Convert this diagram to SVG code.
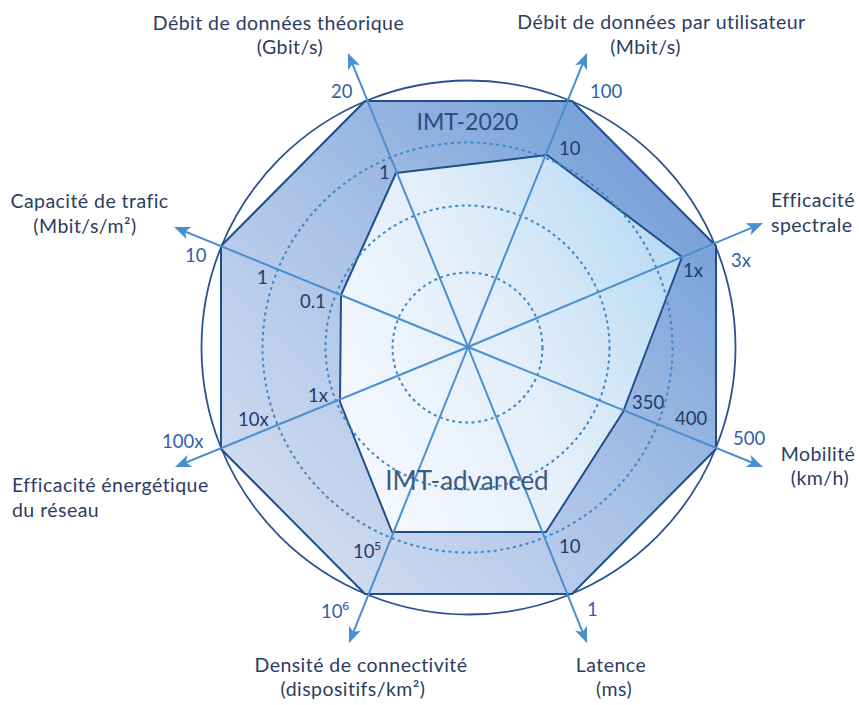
<svg xmlns="http://www.w3.org/2000/svg" width="859" height="705" viewBox="0 0 859 705">
  <style>
    text { font-family: Lato, "Open Sans", "Noto Sans", sans-serif; }
    .title { font-size: 19.5px; letter-spacing: 0.45px; fill: #2b3d61; }
    .outer { font-size: 18.5px; fill: #2f62a6; }
    .inner { font-size: 18.5px; fill: #1f3c6e; }
    .sup { font-family: "Open Sans", "Noto Sans", sans-serif; }
    .ring { fill: none; stroke: #3f86c8; stroke-width: 2; stroke-dasharray: 3 3.5; }
    .axis { stroke: #4a8fd0; stroke-width: 2; fill: none; marker-end: url(#arrow); }
  </style>
  <defs>
    <linearGradient id="g-outer" gradientUnits="userSpaceOnUse" x1="716" y1="101" x2="221" y2="594">
      <stop offset="0" stop-color="#6595d3"/>
      <stop offset="0.5" stop-color="#a9c1e6"/>
      <stop offset="1" stop-color="#dce5f3"/>
    </linearGradient>
    <linearGradient id="g-inner" gradientUnits="userSpaceOnUse" x1="340" y1="430" x2="682" y2="250">
      <stop offset="0" stop-color="#f5f8fd"/>
      <stop offset="0.5" stop-color="#e2eef9"/>
      <stop offset="1" stop-color="#b8daf3"/>
    </linearGradient>
    <marker id="arrow" markerUnits="userSpaceOnUse" markerWidth="16" markerHeight="13" viewBox="0 0 16 13" refX="8" refY="6.5" orient="auto">
      <path d="M0,0 L16,6.5 L0,13 L4,6.5 Z" fill="#4a8fd0"/>
    </marker>
  </defs>

  <!-- boundary circle -->
  <circle id="boundary" cx="468.5" cy="347.5" r="267" fill="none" stroke="#2b5290" stroke-width="1.8"/>

  <!-- IMT-2020 octagon -->
  <g id="imt-2020">
    <polygon points="365,101 572,101 716,246 716,449 572,594 365,594 221,449 221,246"
             fill="url(#g-outer)" stroke="#1f4e8a" stroke-width="2" stroke-linejoin="round"/>
  </g>

  <!-- IMT-advanced polygon -->
  <g id="imt-advanced">
    <polygon points="396,173 547,155 682,257 623,412 546,532 392,532 340,402 341,295"
             fill="url(#g-inner)" stroke="#1f4e8a" stroke-width="2" stroke-linejoin="round"/>
  </g>

  <!-- scale rings -->
  <g id="rings">
    <circle class="ring" cx="467.5" cy="347.5" r="75"/>
    <circle class="ring" cx="467.5" cy="347.5" r="142"/>
    <circle class="ring" cx="467.5" cy="347.5" r="205"/>
  </g>

  <!-- axes -->
  <g id="axes">
    <line class="axis" x1="468" y1="347" x2="351.0" y2="60.4"/>
    <line class="axis" x1="468" y1="347" x2="584.0" y2="60.4"/>
    <line class="axis" x1="468" y1="347" x2="755.6" y2="226.1"/>
    <line class="axis" x1="468" y1="347" x2="755.6" y2="464.0"/>
    <line class="axis" x1="468" y1="347" x2="584.0" y2="635.6"/>
    <line class="axis" x1="468" y1="347" x2="352.0" y2="635.6"/>
    <line class="axis" x1="468" y1="347" x2="182.4" y2="464.0"/>
    <line class="axis" x1="468" y1="347" x2="181.4" y2="230.0"/>
  </g>

  <!-- series names -->
  <g id="series-names">
    <text x="467.5" y="130" text-anchor="middle" style="font-size:23px; fill:#2a4d80;">IMT-2020</text>
    <text x="467" y="490" text-anchor="middle" style="font-size:26px; fill:#3f5a82;">IMT-advanced</text>
  </g>

  <!-- axis titles -->
  <g id="axis-titles">
    <text class="title" x="278.5" y="30" text-anchor="middle">Débit de données théorique</text>
    <text class="title" x="290" y="54" text-anchor="middle">(Gbit/s)</text>
    <text class="title" x="661.5" y="29" text-anchor="middle">Débit de données par utilisateur</text>
    <text class="title" x="645.5" y="54" text-anchor="middle">(Mbit/s)</text>
    <text class="title" x="771" y="207">Efficacité</text>
    <text class="title" x="771" y="232">spectrale</text>
    <text class="title" x="818" y="461" text-anchor="middle">Mobilité</text>
    <text class="title" x="820" y="485" text-anchor="middle">(km/h)</text>
    <text class="title" x="611" y="672" text-anchor="middle">Latence</text>
    <text class="title" x="614" y="696" text-anchor="middle">(ms)</text>
    <text class="title" x="361" y="672" text-anchor="middle">Densité de connectivité</text>
    <text class="title" x="353" y="696" text-anchor="middle">(dispositifs/km²)</text>
    <text class="title" x="12" y="492">Efficacité énergétique</text>
    <text class="title" x="12" y="517">du réseau</text>
    <text class="title" x="89.5" y="208" text-anchor="middle">Capacité de trafic</text>
    <text class="title" x="85" y="233" text-anchor="middle">(Mbit/s/m²)</text>
  </g>

  <!-- scale values -->
  <g id="values">
    <text class="outer" x="331" y="98">20</text>
    <text class="outer" x="590" y="98">100</text>
    <text class="inner" x="379" y="179">1</text>
    <text class="inner" x="559" y="155">10</text>
    <text class="outer" x="731" y="267">3x</text>
    <text class="inner" x="683" y="277">1x</text>
    <text class="inner" x="632" y="409">350</text>
    <text class="inner" x="675" y="425">400</text>
    <text class="outer" x="733" y="445">500</text>
    <text class="inner" x="559" y="553">10</text>
    <text class="outer" x="587" y="616">1</text>
    <text class="inner" x="353" y="558">10<tspan class="sup">⁵</tspan></text>
    <text class="outer" x="321" y="618">10<tspan class="sup">⁶</tspan></text>
    <text class="inner" x="308" y="402">1x</text>
    <text class="inner" x="238" y="426">10x</text>
    <text class="outer" x="162" y="448">100x</text>
    <text class="outer" x="185" y="262">10</text>
    <text class="inner" x="257" y="284">1</text>
    <text class="inner" x="300" y="308">0.1</text>
  </g>
</svg>
